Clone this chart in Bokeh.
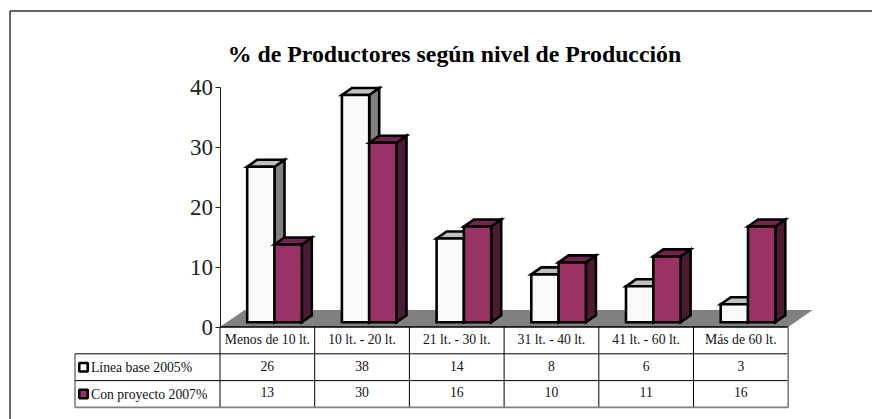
from bokeh.plotting import figure
from bokeh.models import LinearAxis, FixedTicker, Range1d
from bokeh.core.properties import value
from bokeh.embed import file_html
from bokeh.resources import INLINE

title = "% de Productores según nivel de Producción"
categories = ["Menos de 10 lt.", "10 lt. - 20 lt.", "21 lt. - 30 lt.", "31 lt. - 40 lt.", "41 lt. - 60 lt.", "Más de 60 lt."]
series_a_name = "Línea base 2005%"
series_b_name = "Con proyecto 2007%"
series_a = [26, 38, 14, 8, 6, 3]
series_b = [13, 30, 16, 10, 11, 16]
y_ticks = [0, 10, 20, 30, 40]

W, H = 872, 419
OX, OY = 0, 0            # the figure sits at the page origin
AX_PX, Y0_PX = 219.5, 326.5
CAT_PX, UNIT_PX = 94.7, 5.98
FONT = value("Liberation Serif")

# one category = 1 x unit, one percent = 1 y unit
xr = Range1d((OX - AX_PX) / CAT_PX, (OX + W - AX_PX) / CAT_PX)
yr = Range1d((Y0_PX - (OY + H)) / UNIT_PX, (Y0_PX - OY) / UNIT_PX)
DX = 10 / CAT_PX          # depth of bars
DY = 7 / UNIT_PX
BASE = 4.8 / UNIT_PX      # bars stand on mid-floor
BAR_L = 27.3 / CAT_PX     # bar width
BAR_START = 27.2 / CAT_PX # first bar's left edge inside its category
FDX, FDY = 24.5 / CAT_PX, 17 / UNIT_PX
BAR_LW = 2.6

p = figure(width=W, height=H, x_range=xr, y_range=yr, output_backend="svg",
           toolbar_location=None, min_border=0, outline_line_color=None,
           x_axis_type=None, y_axis_type=None, background_fill_color="white")
p.grid.visible = False

# chart area frame: only top and left are visible in the crop
fx = (9.5 - AX_PX) / CAT_PX
fy = (Y0_PX - 10.5) / UNIT_PX
p.line([fx, fx], [yr.start, fy], line_color="#404040", line_width=1.6)
p.line([fx, xr.end], [fy, fy], line_color="#303030", line_width=1.6)

# floor
n = len(categories)
p.patch([0, n, n + FDX, FDX], [0, 0, FDY, FDY], fill_color="#808080", line_color=None)


def bar_parts(vals, off):
    front_l, front_b, front_t, sides, tops = [], [], [], ([], []), ([], [])
    for i, v in enumerate(vals):
        x0 = i + BAR_START + off * BAR_L
        x1 = x0 + BAR_L
        y0, y1 = BASE, BASE + v
        front_l.append((x0 + x1) / 2)
        front_b.append(y0)
        front_t.append(y1)
        sides[0].append([x1, x1 + DX, x1 + DX, x1])
        sides[1].append([y0, y0 + DY, y1 + DY, y1])
        tops[0].append([x0, x0 + DX, x1 + DX, x1])
        tops[1].append([y1, y1 + DY, y1 + DY, y1])
    return front_l, front_b, front_t, sides, tops


for vals, off, front, side, top, hatch in (
    (series_a, 0, "#fbfbfb", "#808080", "#c0c0c0", True),
    (series_b, 1, "#993366", "#4d1a33", "#73264d", False),
):
    c, b, t, s, tp = bar_parts(vals, off)
    p.patches(s[0], s[1], fill_color=side, line_color="black", line_width=BAR_LW, line_join="miter")
    p.patches(tp[0], tp[1], fill_color=top, line_color="black", line_width=BAR_LW, line_join="miter")
    kw = dict(hatch_pattern="dot", hatch_color="#f1f1f1", hatch_scale=4, hatch_weight=1) if hatch else {}
    p.vbar(x=c, bottom=b, top=t, width=BAR_L, fill_color=front, line_color="black",
           line_width=BAR_LW, line_join="miter", **kw)

# value axis
ax = LinearAxis(fixed_location=0, bounds=(0, 40), ticker=FixedTicker(ticks=y_ticks))
ax.axis_line_color = "#202020"
ax.axis_line_width = 1
ax.major_tick_line_color = "#202020"
ax.major_tick_out = 5
ax.major_tick_in = 0
ax.minor_tick_line_color = None
ax.major_label_standoff = 2
ax.major_label_text_font = "Liberation Serif"
ax.major_label_text_font_size = "23px"
ax.major_label_text_color = "#222222"
p.add_layout(ax, "left")

# data table
row = 26.8 / UNIT_PX
label_l = (74.5 - AX_PX) / CAT_PX
ys = [0, -row, -2 * row, -3 * row]
for j in (0, 1):
    p.line([label_l, n], [ys[j + 1], ys[j + 1]], line_color="black", line_width=1)
p.line([0, n], [0, 0], line_color="black", line_width=1.5)
p.line([label_l, label_l], [ys[1], ys[3]], line_color="#303030", line_width=1)
p.line([0, 0], [0, ys[3]], line_color="black", line_width=1)
for i in range(1, n):
    p.line([i, i], [0, ys[3]], line_color="black", line_width=1)
p.line([label_l, n], [ys[3], ys[3]], line_color="#808080", line_width=1.6)
p.line([n, n], [0, ys[3]], line_color="#808080", line_width=1.6)

cx = [i + 0.5 for i in range(n)]
tkw = dict(text_font=FONT, text_font_size="13.7px", text_color="#111111", text_baseline="middle")
p.text(cx, [-row / 2 + 0.1] * n, text=categories, text_align="center", **tkw)
p.text(cx, [-1.5 * row + 0.25] * n, text=[str(v) for v in series_a], text_align="center", **tkw)
p.text(cx, [-2.5 * row + 0.35] * n, text=[str(v) for v in series_b], text_align="center", **tkw)
lx = (90.5 - AX_PX) / CAT_PX
p.text([lx, lx], [-1.5 * row, -2.5 * row], text=[series_a_name, series_b_name], text_align="left", **tkw)

# legend keys
kx = (83 - AX_PX) / CAT_PX
p.rect([kx, kx], [-1.5 * row, -2.5 * row], width=8.5 / CAT_PX, height=8.5 / UNIT_PX,
       fill_color=["white", "#993366"], line_color="black", line_width=2.6)

# title
p.text([(454 - AX_PX) / CAT_PX], [(Y0_PX - 53) / UNIT_PX], text=[title], text_font=FONT,
       text_font_size="23.8px", text_font_style="bold", text_color="black",
       text_align="center", text_baseline="middle")

open("out.html", "w").write(file_html(p, INLINE))
